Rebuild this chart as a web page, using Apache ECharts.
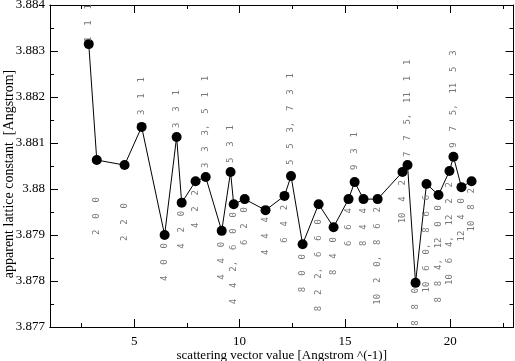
<!DOCTYPE html>
<html>
<head>
<meta charset="utf-8">
<script src="https://cdn.jsdelivr.net/npm/echarts@6/dist/echarts.min.js"></script>
<style>
html,body{margin:0;padding:0;background:#fff;}
#chart{width:515px;height:361px;}
</style>
</head>
<body>
<div id="chart"></div>
<script>
// ---- data ----
const qValues = [2.84, 3.22, 4.54, 5.35, 6.44, 7.01, 7.25, 7.91, 8.39, 9.15, 9.57, 9.72, 10.24, 11.23, 12.13, 12.44,
  12.99, 13.75, 14.46, 15.17, 15.46, 15.88, 16.55, 17.73, 17.97, 18.35, 18.87, 19.44, 19.96, 20.15, 20.53, 21.01];
const latticeA = [3.88315, 3.88063, 3.88052, 3.88135, 3.87900, 3.88113, 3.87970, 3.88017, 3.88026, 3.87909, 3.88037,
  3.87967, 3.87978, 3.87954, 3.87985, 3.88028, 3.87880, 3.87967, 3.87917, 3.87978, 3.88015, 3.87978, 3.87978,
  3.88037, 3.88052, 3.87796, 3.88011, 3.87987, 3.88039, 3.88070, 3.88004, 3.88017];
const hklLabels = ['1 1 1', '2 0 0', '2 2 0', '3 1 1', '4 0 0', '3 3 1', '4 2 0', '4 2 2', '3 3 3, 5 1 1', '4 4 0',
  '5 3 1', '4 4 2, 6 0 0', '6 2 0', '4 4 4', '6 4 2', '5 5 3, 7 3 1', '8 0 0', '8 2 2, 6 6 0', '8 4 0', '6 6 4',
  '9 3 1', '8 4 4', '10 2 0, 8 6 2', '10 4 2', '7 7 5, 11 1 1', '8 8 0', '10 6 0, 8 6 6', '8 8 4, 12 0 0',
  '10 6 4, 12 2 2', '9 7 5, 11 5 3', '12 4 0', '10 8 2'];
const xMajorTicks = [5, 10, 15, 20];
const xMinorTicks = [2.5, 7.5, 12.5, 17.5, 22.5];

// ---- label styling (placement only) ----
const labelAbove = [1,0,0,1,0,1,0,0,1,0,1,0,0,0,0,1,0,0,0,0,1,0,0,0,1,0,0,0,0,1,0,0];
const labelGap = [2,37,38,12,8,9,8,9,9,11,9,8,8,7,9,11,10,15,10,9,12,9,8,8,8,5,11,10,11,9,11,7];

const SYM = 10;
const seriesData = qValues.map((q, i) => {
  const above = labelAbove[i] === 1;
  return {
    value: [q, latticeA[i]],
    label: {
      show: true,
      position: above ? 'top' : 'bottom',
      distance: labelGap[i] - SYM / 2,
      rotate: 90,
      align: above ? 'left' : 'right',
      verticalAlign: 'middle',
      formatter: hklLabels[i].replace(/ /g, '  ')
    }
  };
});

const axisFont = {fontFamily: 'Liberation Serif', fontSize: 13, color: '#000'};
const lineStyle = {color: '#000', width: 1};

function xAx(pos, values, len, showLabel, name) {
  return {
    type: 'value', position: pos, min: 1, max: 23,
    axisLine: {show: true, onZero: false, lineStyle},
    axisTick: {show: true, inside: true, length: len, customValues: values, lineStyle},
    axisLabel: showLabel ? Object.assign({show: true, margin: 8, customValues: values}, axisFont) : {show: false},
    splitLine: {show: false},
    name: name || '', nameLocation: 'middle', nameGap: 22, nameMoveOverlap: false,
    nameTextStyle: axisFont
  };
}

const option = {
  animation: false,
  backgroundColor: '#fff',
  grid: {left: 50, right: 1.5, top: 5, bottom: 34, containLabel: false, outerBoundsMode: 'none'},
  xAxis: [
    xAx('bottom', xMajorTicks, 8, true, 'scattering vector value [Angstrom ^(-1)]'),
    xAx('bottom', xMinorTicks, 4, false),
    xAx('top', xMajorTicks, 8, false),
    xAx('top', xMinorTicks, 4, false)
  ],
  yAxis: [
    {
      type: 'value', position: 'left', min: 3.877, max: 3.884, interval: 0.001,
      axisLine: {show: true, lineStyle},
      axisTick: {show: true, inside: true, length: 8, lineStyle},
      minorTick: {show: true, splitNumber: 2, length: 4, lineStyle},
      axisLabel: Object.assign({margin: 5, formatter: v => String(+v.toFixed(3))}, axisFont),
      splitLine: {show: false},
      name: 'apparent lattice constant  [Angstrom]', nameLocation: 'middle', nameGap: 34, nameMoveOverlap: false,
      nameTextStyle: Object.assign({}, axisFont, {fontSize: 14, padding: [0, 16, 0, 0]})
    },
    {
      type: 'value', position: 'right', min: 3.877, max: 3.884, interval: 0.001,
      axisLine: {show: true, lineStyle},
      axisTick: {show: true, inside: true, length: 8, lineStyle},
      minorTick: {show: true, splitNumber: 2, length: 4, lineStyle},
      axisLabel: {show: false},
      splitLine: {show: false}
    }
  ],
  series: [{
    type: 'line',
    xAxisIndex: 0, yAxisIndex: 0,
    data: seriesData,
    symbol: 'circle',
    symbolSize: SYM,
    itemStyle: {color: '#000'},
    lineStyle: {color: '#000', width: 1},
    label: {color: '#777', fontFamily: 'DejaVu Sans Mono', fontSize: 9},
    labelLayout: {hideOverlap: false},
    emphasis: {disabled: true}
  }]
};

const chart = echarts.init(document.getElementById('chart'), null, {renderer: 'canvas'});
chart.setOption(option);
</script>
</body>
</html>
